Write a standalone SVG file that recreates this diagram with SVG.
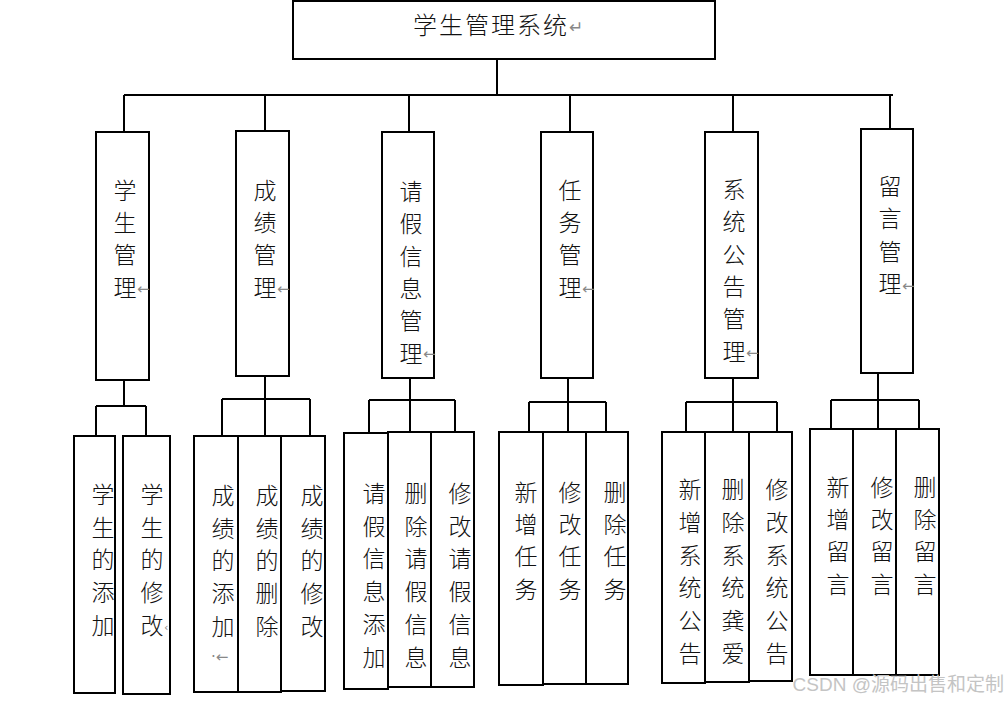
<svg xmlns="http://www.w3.org/2000/svg" width="1008" height="702" viewBox="0 0 1008 702">
<style>
.box{fill:#fff;stroke:#000;stroke-width:2}
.ln{stroke:#000;stroke-width:2;fill:none}
.t{font-family:"Noto Sans CJK SC","Noto Sans CJK JP",sans-serif;font-size:23px;font-weight:300;fill:#111;text-anchor:middle}
.r{font-family:"DejaVu Sans",sans-serif;font-size:15px;fill:#888}
.wm{font-family:"Liberation Sans","Noto Sans CJK SC",sans-serif;font-size:19px;fill:#c4c4c4;text-anchor:end}
</style>
<rect width="1008" height="702" fill="#fff"/>
<g id="connectors">
<path class="ln" d="M497 59V95M124 95H893M124 95V132M265 95V131M409 95V132M570 95V132M733 95V132M890 95V129"/>
<path class="ln" d="M124 380V406M96 406H146M96 406V436M146 406V436"/>
<path class="ln" d="M265 376V399M222 399H310M222 399V436M265 399V436M310 399V436"/>
<path class="ln" d="M410 378V400M369 400H455M369 400V432M410 400V432M455 400V432"/>
<path class="ln" d="M568 378V402M529 402H606M529 402V432M568 402V432M606 402V432"/>
<path class="ln" d="M733 378V402M686 402H777M686 402V432M733 402V432M777 402V432"/>
<path class="ln" d="M878 373V400M831 400H919M831 400V429M878 400V429M919 400V429"/>
</g>
<g id="root">
<rect class="box" x="293" y="1" width="422" height="58"/>
<text x="413" y="34" style="font-family:'Noto Sans CJK SC',sans-serif;font-size:24px;font-weight:300;letter-spacing:2px;fill:#111">学生管理系统</text>
<text class="r" x="569" y="33" style="font-size:17px">↵</text>
</g>
<g id="n-student">
<rect class="box" x="96" y="132" width="53" height="248"/>
<text class="t"><tspan x="125" y="199">学</tspan><tspan x="125" dy="32.2">生</tspan><tspan x="125" dy="32.2">管</tspan><tspan x="125" dy="32.2">理</tspan></text>
<text class="r" x="137" y="294">←</text>
</g>
<g id="n-score">
<rect class="box" x="236" y="131" width="53" height="245"/>
<text class="t"><tspan x="265" y="199">成</tspan><tspan x="265" dy="32.2">绩</tspan><tspan x="265" dy="32.2">管</tspan><tspan x="265" dy="32.2">理</tspan></text>
<text class="r" x="277" y="294">←</text>
</g>
<g id="n-leave">
<rect class="box" x="382" y="132" width="52" height="246"/>
<text class="t"><tspan x="411" y="200">请</tspan><tspan x="411" dy="32.3">假</tspan><tspan x="411" dy="32.3">信</tspan><tspan x="411" dy="32.3">息</tspan><tspan x="411" dy="32.3">管</tspan><tspan x="411" dy="32.3">理</tspan></text>
<text class="r" x="423" y="359">←</text>
</g>
<g id="n-task">
<rect class="box" x="541" y="132" width="52" height="246"/>
<text class="t"><tspan x="570" y="199">任</tspan><tspan x="570" dy="32.2">务</tspan><tspan x="570" dy="32.2">管</tspan><tspan x="570" dy="32.2">理</tspan></text>
<text class="r" x="582" y="294">←</text>
</g>
<g id="n-notice">
<rect class="box" x="705" y="132" width="53" height="246"/>
<text class="t"><tspan x="734" y="198">系</tspan><tspan x="734" dy="32.3">统</tspan><tspan x="734" dy="32.3">公</tspan><tspan x="734" dy="32.3">告</tspan><tspan x="734" dy="32.3">管</tspan><tspan x="734" dy="32.3">理</tspan></text>
<text class="r" x="746" y="358">←</text>
</g>
<g id="n-message">
<rect class="box" x="861" y="129" width="52" height="244"/>
<text class="t"><tspan x="890" y="195">留</tspan><tspan x="890" dy="32.3">言</tspan><tspan x="890" dy="32.3">管</tspan><tspan x="890" dy="32.3">理</tspan></text>
<text class="r" x="902" y="291">←</text>
</g>
<g id="l-stu-add">
<rect class="box" x="74" y="436" width="41" height="257"/>
<text class="t"><tspan x="103" y="503">学</tspan><tspan x="103" dy="32.7">生</tspan><tspan x="103" dy="32.7">的</tspan><tspan x="103" dy="32.7">添</tspan><tspan x="103" dy="32.7">加</tspan></text>
</g>
<g id="l-stu-edit">
<rect class="box" x="123" y="436" width="47" height="258"/>
<text class="t"><tspan x="152" y="503">学</tspan><tspan x="152" dy="32.7">生</tspan><tspan x="152" dy="32.7">的</tspan><tspan x="152" dy="32.7">修</tspan><tspan x="152" dy="32.7">改</tspan></text>
<text class="r" x="164" y="631" style="font-size:11px">‹</text>
</g>
<g id="l-score-add">
<rect class="box" x="194" y="436" width="44" height="256"/>
<text class="t"><tspan x="223" y="504">成</tspan><tspan x="223" dy="32.7">绩</tspan><tspan x="223" dy="32.7">的</tspan><tspan x="223" dy="32.7">添</tspan><tspan x="223" dy="32.7">加</tspan></text>
<text class="r" x="211" y="662">·←</text>
</g>
<g id="l-score-del">
<rect class="box" x="238" y="436" width="43" height="256"/>
<text class="t"><tspan x="267" y="504">成</tspan><tspan x="267" dy="32.7">绩</tspan><tspan x="267" dy="32.7">的</tspan><tspan x="267" dy="32.7">删</tspan><tspan x="267" dy="32.7">除</tspan></text>
</g>
<g id="l-score-edit">
<rect class="box" x="281" y="436" width="44" height="255"/>
<text class="t"><tspan x="312" y="504">成</tspan><tspan x="312" dy="32.7">绩</tspan><tspan x="312" dy="32.7">的</tspan><tspan x="312" dy="32.7">修</tspan><tspan x="312" dy="32.7">改</tspan></text>
</g>
<g id="l-leave-add">
<rect class="box" x="344" y="433" width="44" height="256"/>
<text class="t"><tspan x="374" y="502">请</tspan><tspan x="374" dy="32.7">假</tspan><tspan x="374" dy="32.7">信</tspan><tspan x="374" dy="32.7">息</tspan><tspan x="374" dy="32.7">添</tspan><tspan x="374" dy="32.7">加</tspan></text>
</g>
<g id="l-leave-del">
<rect class="box" x="388" y="432" width="43" height="255"/>
<text class="t"><tspan x="416" y="502">删</tspan><tspan x="416" dy="32.7">除</tspan><tspan x="416" dy="32.7">请</tspan><tspan x="416" dy="32.7">假</tspan><tspan x="416" dy="32.7">信</tspan><tspan x="416" dy="32.7">息</tspan></text>
</g>
<g id="l-leave-edit">
<rect class="box" x="431" y="432" width="43" height="255"/>
<text class="t"><tspan x="460" y="502">修</tspan><tspan x="460" dy="32.7">改</tspan><tspan x="460" dy="32.7">请</tspan><tspan x="460" dy="32.7">假</tspan><tspan x="460" dy="32.7">信</tspan><tspan x="460" dy="32.7">息</tspan></text>
</g>
<g id="l-task-add">
<rect class="box" x="499" y="432" width="44" height="253"/>
<text class="t"><tspan x="526" y="501">新</tspan><tspan x="526" dy="32.2">增</tspan><tspan x="526" dy="32.2">任</tspan><tspan x="526" dy="32.2">务</tspan></text>
</g>
<g id="l-task-edit">
<rect class="box" x="543" y="432" width="43" height="252"/>
<text class="t"><tspan x="570" y="501">修</tspan><tspan x="570" dy="32.2">改</tspan><tspan x="570" dy="32.2">任</tspan><tspan x="570" dy="32.2">务</tspan></text>
</g>
<g id="l-task-del">
<rect class="box" x="586" y="432" width="42" height="252"/>
<text class="t"><tspan x="615" y="501">删</tspan><tspan x="615" dy="32.2">除</tspan><tspan x="615" dy="32.2">任</tspan><tspan x="615" dy="32.2">务</tspan></text>
</g>
<g id="l-notice-add">
<rect class="box" x="662" y="432" width="43" height="251"/>
<text class="t"><tspan x="690" y="498">新</tspan><tspan x="690" dy="32.8">增</tspan><tspan x="690" dy="32.8">系</tspan><tspan x="690" dy="32.8">统</tspan><tspan x="690" dy="32.8">公</tspan><tspan x="690" dy="32.8">告</tspan></text>
</g>
<g id="l-notice-del">
<rect class="box" x="705" y="432" width="44" height="250"/>
<text class="t"><tspan x="733" y="498">删</tspan><tspan x="733" dy="32.8">除</tspan><tspan x="733" dy="32.8">系</tspan><tspan x="733" dy="32.8">统</tspan><tspan x="733" dy="32.8">龚</tspan><tspan x="733" dy="32.8">爱</tspan></text>
</g>
<g id="l-notice-edit">
<rect class="box" x="749" y="432" width="43" height="249"/>
<text class="t"><tspan x="777" y="498">修</tspan><tspan x="777" dy="32.8">改</tspan><tspan x="777" dy="32.8">系</tspan><tspan x="777" dy="32.8">统</tspan><tspan x="777" dy="32.8">公</tspan><tspan x="777" dy="32.8">告</tspan></text>
</g>
<g id="l-msg-add">
<rect class="box" x="810" y="429" width="43" height="246"/>
<text class="t"><tspan x="838" y="496">新</tspan><tspan x="838" dy="32.2">增</tspan><tspan x="838" dy="32.2">留</tspan><tspan x="838" dy="32.2">言</tspan></text>
</g>
<g id="l-msg-edit">
<rect class="box" x="853" y="429" width="43" height="246"/>
<text class="t"><tspan x="882" y="496">修</tspan><tspan x="882" dy="32.2">改</tspan><tspan x="882" dy="32.2">留</tspan><tspan x="882" dy="32.2">言</tspan></text>
</g>
<g id="l-msg-del">
<rect class="box" x="896" y="429" width="43" height="246"/>
<text class="t"><tspan x="925" y="496">删</tspan><tspan x="925" dy="32.2">除</tspan><tspan x="925" dy="32.2">留</tspan><tspan x="925" dy="32.2">言</tspan></text>
</g>
<text class="wm" x="1004" y="691">CSDN @源码出售和定制</text>
</svg>
